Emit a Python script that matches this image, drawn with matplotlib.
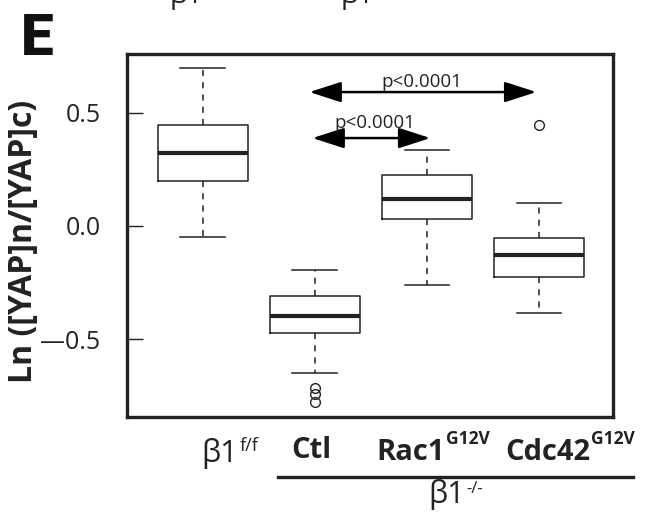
import matplotlib
matplotlib.use("Agg")
import matplotlib.pyplot as plt
from matplotlib.lines import Line2D

plt.rcParams['font.family'] = ['Open Sans', 'DejaVu Sans']

# ---- data ----
groups = ["Ctl", "Rac1", "Cdc42"]
group_sup = ["", "G12V", "G12V"]
control_label = ("β1", "f/f")
knockout_label = ("β1", "-/-")
whislo = [-0.05, -0.647, -0.260, -0.385]
q1 = [0.198, -0.471, 0.029, -0.225]
med = [0.321, -0.397, 0.121, -0.128]
q3 = [0.447, -0.309, 0.225, -0.054]
whishi = [0.696, -0.194, 0.334, 0.100]
fliers = [[], [-0.716, -0.741, -0.775], [], [0.444]]

yticks = [-0.5, 0.0, 0.5]
ytick_labels = ["\u20140.5", "0.0", "0.5"]
ylabel = "Ln ([YAP]n/[YAP]c)"
p_text = "p<0.0001"
comparisons = [(2, 4), (2, 3)]

W, H = 645, 516
fig = plt.figure(figsize=(W / 100, H / 100), dpi=100)
ax = fig.add_axes([127 / W, 1 - 417 / H, 486 / W, 363 / H])
c = '#222222'

stats = []
for i in range(len(med)):
    stats.append(dict(med=med[i], q1=q1[i], q3=q3[i], whislo=whislo[i],
                      whishi=whishi[i], fliers=fliers[i]))
positions = list(range(1, len(med) + 1))
ax.bxp(stats, positions=positions, widths=0.8, showfliers=True,
       boxprops=dict(color=c, linewidth=1.1),
       whiskerprops=dict(color=c, linewidth=1.1, linestyle=(0, (4, 4))),
       capprops=dict(color=c, linewidth=1.1),
       medianprops=dict(color=c, linewidth=3.0),
       flierprops=dict(marker='o', markerfacecolor='none', markeredgecolor=c,
                       markersize=7, markeredgewidth=1.0),
       capwidths=0.4)

ax.set_xlim(0.324, 4.66)
ax.set_ylim(-0.843, 0.759)
ax.set_xticks([])
ax.set_yticks(yticks)
ax.set_yticklabels(ytick_labels, fontsize=18, color=c)
ax.tick_params(axis='y', direction='in', length=11.5, width=1.0, pad=19, colors=c)
for s in ax.spines.values():
    s.set_linewidth(2.4)
    s.set_color(c)

ax.set_ylabel(ylabel, fontsize=23, fontweight='bold', color=c)
ax.yaxis.set_label_coords(-0.18, 0.485)

# significance arrows
arrow_y = {(2, 4): 0.591, (2, 3): 0.388}
text_y = {(2, 4): 0.614, (2, 3): 0.432}
text_x = {(2, 4): 2.958, (2, 3): 2.537}
starts = {(2, 4): 1.952, (2, 3): 1.979}
ends = {(2, 4): 3.976, (2, 3): 3.03}
for key in comparisons:
    y = arrow_y[key]
    ax.annotate('', xy=(ends[key], y), xytext=(starts[key], y),
                arrowprops=dict(arrowstyle='<|-|>,head_length=1.3,head_width=0.42',
                                color='black', lw=1.8, shrinkA=0, shrinkB=0,
                                mutation_scale=15))
    ax.text(text_x[key], text_y[key], p_text, ha='center', va='baseline',
            fontsize=13.5, color=c)


def fx(px):
    return px / W


def fy(py):
    return 1 - py / H


# category labels (main text right-aligned at end, superscript after)
fig.text(fx(238), fy(462), control_label[0], ha='right', va='baseline', fontsize=22, color=c)
fig.text(fx(240), fy(451), control_label[1], ha='left', va='baseline', fontsize=13, color=c)

fig.text(fx(311), fy(458), groups[0], ha='center', va='baseline', fontsize=21,
         fontweight='bold', color=c)
ends_px = [None, 445, 590]
for i in (1, 2):
    fig.text(fx(ends_px[i]), fy(460), groups[i], ha='right', va='baseline', fontsize=21,
             fontweight='bold', color=c)
    fig.text(fx(ends_px[i] + 1), fy(444), group_sup[i], ha='left', va='baseline',
             fontsize=12.5, fontweight='bold', color=c)

fig.add_artist(Line2D([fx(278), fx(633)], [fy(477), fy(477)],
                      transform=fig.transFigure, color=c, linewidth=2.4))
fig.text(fx(465), fy(503), knockout_label[0], ha='right', va='baseline', fontsize=22, color=c)
fig.text(fx(466), fy(493), knockout_label[1], ha='left', va='baseline', fontsize=12, color=c)

# panel letter
fig.text(fx(37), fy(55), 'E', ha='center', va='baseline', fontsize=42,
         fontweight='heavy', color='#111111', family=['Roboto', 'DejaVu Sans'])

# clipped fragments of labels above panel
fig.text(fx(186), fy(3), 'β1', ha='center', va='baseline', fontsize=20, color=c)
fig.text(fx(357), fy(3), 'β1', ha='center', va='baseline', fontsize=20, color=c)

fig.savefig('out.png', dpi=100)
